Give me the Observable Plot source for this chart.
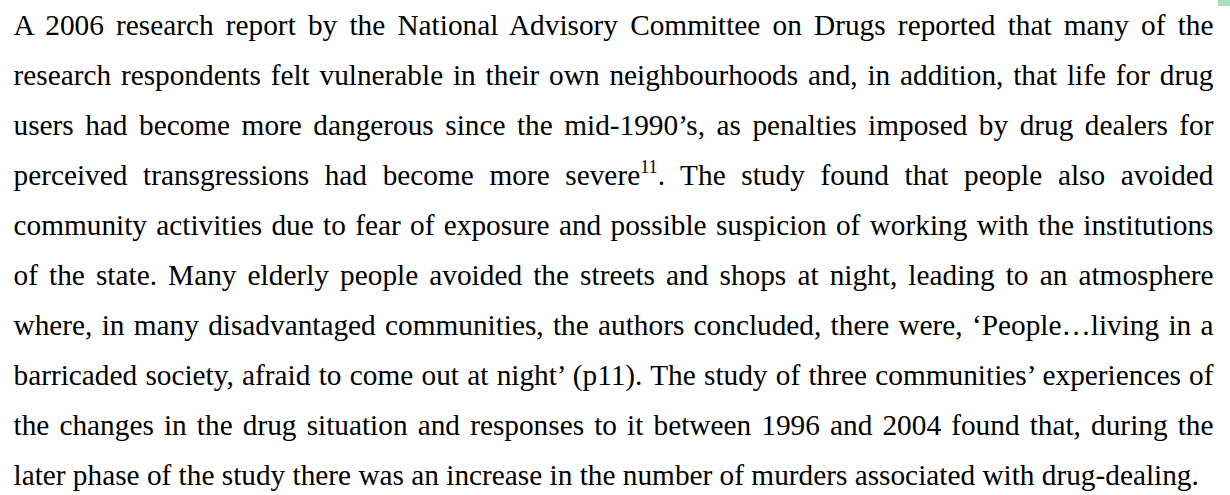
<!DOCTYPE html>
<html>
<head>
<meta charset="utf-8">
<script src="https://cdn.jsdelivr.net/npm/d3@7"></script>
<script src="https://cdn.jsdelivr.net/npm/@observablehq/plot@0.6"></script>
<style>
  html, body { margin: 0; padding: 0; background: #fff; }
  #wrap { position: relative; width: 1230px; height: 495px; overflow: hidden; }
  #tab { position: absolute; left: 1218px; top: 0; width: 12px; height: 6px; background: #a9dcc0; }
</style>
</head>
<body>
<div id="wrap"><div id="tab"></div></div>
<script>
const lines = [
  "A 2006 research report by the National Advisory Committee on Drugs reported that many of the",
  "research respondents felt vulnerable in their own neighbourhoods and, in addition, that life for drug",
  "users had become more dangerous since the mid-1990\u2019s, as penalties imposed by drug dealers for",
  "perceived transgressions had become more severe11. The study found that people also avoided",
  "community activities due to fear of exposure and possible suspicion of working with the institutions",
  "of the state. Many elderly people avoided the streets and shops at night, leading to an atmosphere",
  "where, in many disadvantaged communities, the authors concluded, there were, \u2018People\u2026living in a",
  "barricaded society, afraid to come out at night\u2019 (p11). The study of three communities\u2019 experiences of",
  "the changes in the drug situation and responses to it between 1996 and 2004 found that, during the",
  "later phase of the study there was an increase in the number of murders associated with drug-dealing."
];
const justified = [true, true, true, true, true, true, true, true, true, false];
const superscripts = [{line: 3, before: "severe", sup: "11"}];

const rows = lines.map((text, i) => ({line: i, text, start: 0}));

const FS = 29.3;
const XR = [13, 1213];
const chart = Plot.plot({
  width: 1230,
  height: 495,
  margin: 0,
  x: {domain: [0, 1], range: XR, axis: null},
  y: {domain: [0, lines.length - 1], range: [34, 484], axis: null},
  style: {background: "#fff", fontFamily: "'Liberation Serif', 'Times New Roman', serif"},
  marks: [
    Plot.text(rows, {
      x: "start", y: "line", text: "text",
      textAnchor: "start", lineAnchor: "bottom",
      fontSize: FS, fill: "#000",
      fontFamily: "'Liberation Serif', 'Times New Roman', serif"
    })
  ]
});
document.getElementById("wrap").appendChild(chart);

const texts = chart.querySelectorAll('g[aria-label="text"] text');
const target = XR[1] - XR[0];
texts.forEach((t, i) => {
  const s = superscripts.find(d => d.line === i);
  if (s) {
    const full = lines[i];
    const k = full.indexOf(s.before + s.sup) + s.before.length;
    const a = full.slice(0, k), b = full.slice(k + s.sup.length);
    t.textContent = "";
    const ns = "http://www.w3.org/2000/svg";
    const t1 = document.createElementNS(ns, "tspan"); t1.textContent = a;
    const t2 = document.createElementNS(ns, "tspan"); t2.textContent = s.sup;
    t2.setAttribute("font-size", FS * 0.62); t2.setAttribute("dy", -FS * 0.38);
    const t3 = document.createElementNS(ns, "tspan"); t3.textContent = b;
    t3.setAttribute("dy", FS * 0.38);
    t.append(t1, t2, t3);
  }
  if (justified[i]) {
    const len = t.getComputedTextLength();
    const spaces = (lines[i].match(/ /g) || []).length;
    if (spaces) t.setAttribute("word-spacing", (target - len) / spaces);
  }
});
</script>
</body>
</html>
